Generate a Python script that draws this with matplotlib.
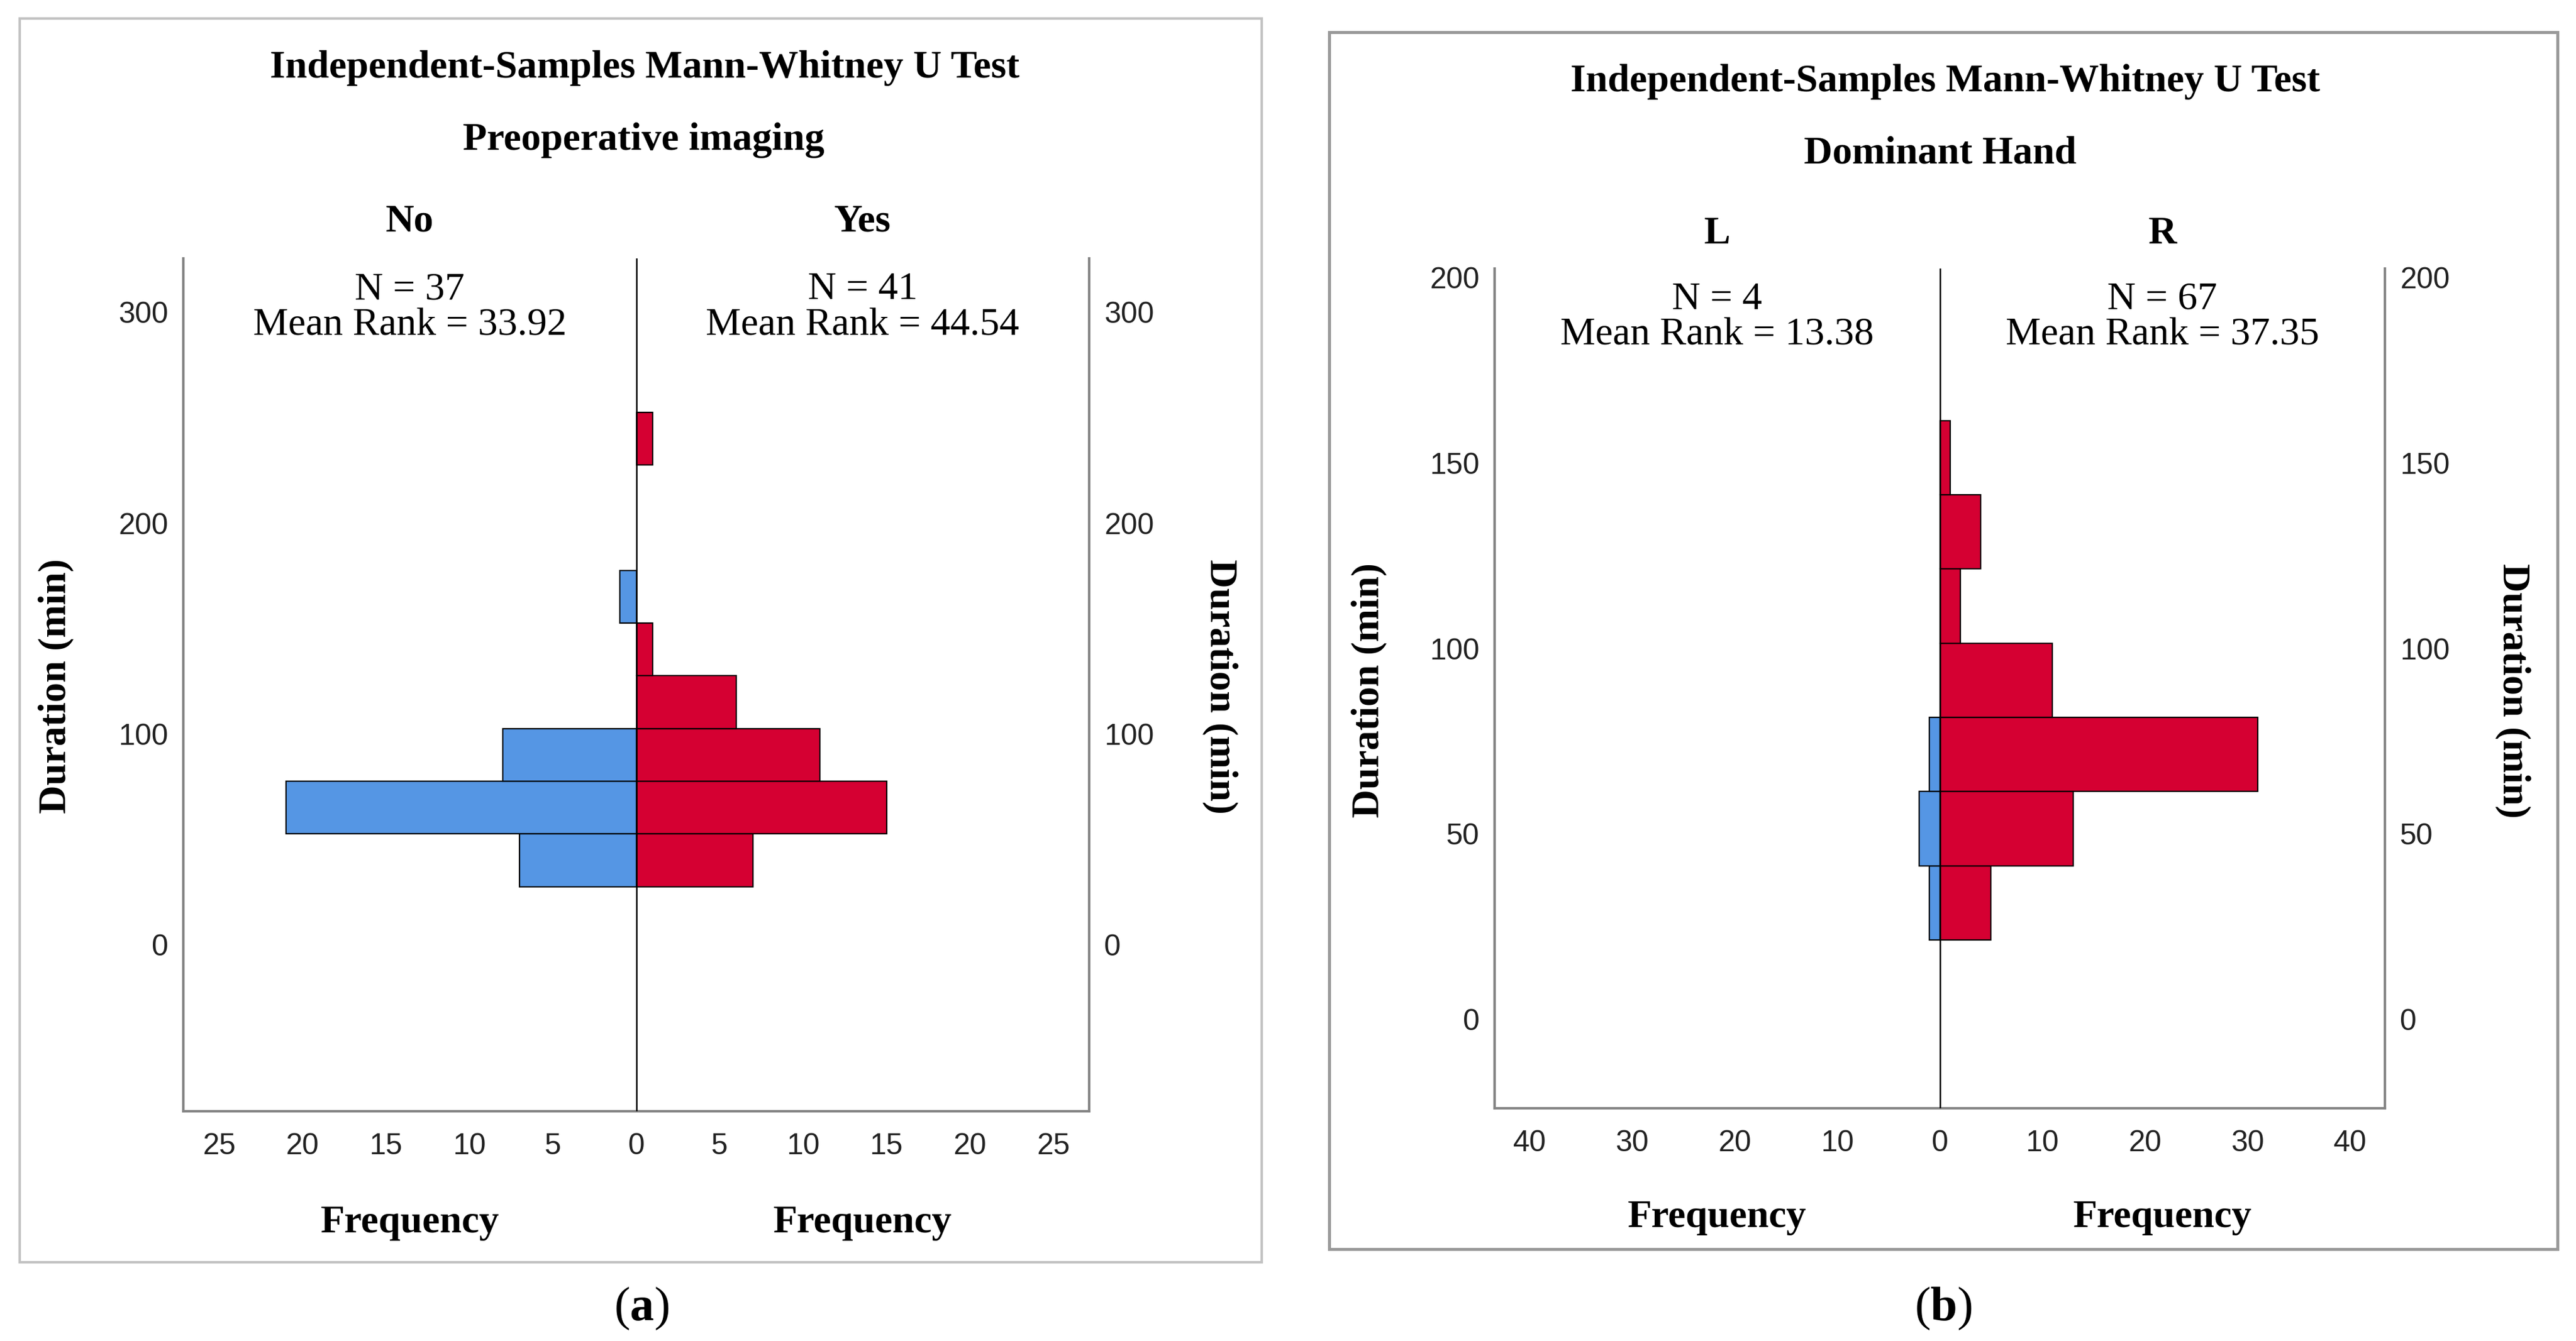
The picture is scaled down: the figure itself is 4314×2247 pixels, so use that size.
import matplotlib
matplotlib.use('Agg')
import matplotlib.pyplot as plt
from matplotlib.patches import Rectangle
from matplotlib.transforms import ScaledTranslation
import numpy as np

W, H = 4314, 2247
DPI = 100

# ---------------- data ----------------
a_title = "Independent-Samples Mann-Whitney U Test"
a_subtitle = "Preoperative imaging"
a_groups = ["No", "Yes"]
a_n = [37, 41]
a_mean_rank = ["33.92", "44.54"]
a_bin_starts = [25, 50, 75, 100, 125, 150, 175, 200, 225]
a_bin_width = 25
a_left_counts = [7, 21, 8, 0, 0, 1, 0, 0, 0]      # No
a_right_counts = [7, 15, 11, 6, 1, 0, 0, 0, 1]    # Yes
a_yticks = [0, 100, 200, 300]
a_xticks = [-25, -20, -15, -10, -5, 0, 5, 10, 15, 20, 25]

b_title = "Independent-Samples Mann-Whitney U Test"
b_subtitle = "Dominant Hand"
b_groups = ["L", "R"]
b_n = [4, 67]
b_mean_rank = ["13.38", "37.35"]
b_bin_starts = [20, 40, 60, 80, 100, 120, 140]
b_bin_width = 20
b_left_counts = [1, 2, 1, 0, 0, 0, 0]             # L
b_right_counts = [5, 13, 31, 11, 2, 4, 1]         # R
b_yticks = [0, 50, 100, 150, 200]
b_xticks = [-40, -30, -20, -10, 0, 10, 20, 30, 40]

BLUE = "#5596E4"
RED = "#D50032"
SERIF = "Liberation Serif"
SANS = "Liberation Sans"

plt.rcParams['mathtext.fontset'] = 'custom'
plt.rcParams['mathtext.rm'] = SERIF
plt.rcParams['mathtext.bf'] = SERIF + ':bold'

fig = plt.figure(figsize=(W / DPI, H / DPI), dpi=DPI)
fig.patch.set_facecolor('white')


def fx(x):
    return x / W


def fy(y):
    return 1 - y / H


def ftext(x, y, s, **kw):
    fig.text(fx(x), fy(y), s, **kw)


TS = 47.5   # serif text size
TK = 36     # tick label size


def panel(box, axbox, xlim, ylim, starts, width, lc, rc, yticks, xticks,
          title, subtitle, groups, ns, ranks, tpos, caption, cap_x):
    # outer frame
    bx0, by0, bx1, by1, bcol, blw = box
    fig.patches.append(Rectangle((fx(bx0), fy(by1)), fx(bx1) - fx(bx0), fy(by0) - fy(by1),
                                 transform=fig.transFigure, fill=False,
                                 edgecolor=bcol, linewidth=blw))
    x0, x1, y0, y1 = axbox
    ax = fig.add_axes([fx(x0), fy(y1), fx(x1) - fx(x0), fy(y0) - fy(y1)])
    ax.set_xlim(-xlim, xlim)
    ax.set_ylim(*ylim)
    centers = np.array(starts) + width / 2.0
    lc = np.array(lc)
    rc = np.array(rc)
    ml = lc > 0
    mr = rc > 0
    ax.barh(centers[ml], -lc[ml], height=width, left=0, color=BLUE,
            edgecolor='black', linewidth=1.6, zorder=3)
    ax.barh(centers[mr], rc[mr], height=width, left=0, color=RED,
            edgecolor='black', linewidth=1.6, zorder=3)
    ax.axvline(0, color='black', linewidth=1.8, zorder=4)
    for s in ['left', 'right', 'bottom']:
        ax.spines[s].set_color('#858585')
        ax.spines[s].set_linewidth(3.0)
    ax.spines['top'].set_visible(False)
    ax.set_yticks(yticks)
    ax.set_yticklabels([str(v) for v in yticks])
    ax.set_xticks(xticks)
    ax.set_xticklabels([str(abs(v)) for v in xticks])
    ax.tick_params(axis='y', length=0, pad=18, labelsize=TK, labelcolor='#222222',
                   labelleft=True, labelright=True)
    ax.tick_params(axis='x', length=0, pad=26, labelsize=TK, labelcolor='#222222')
    off = ScaledTranslation(0, -9 / DPI, fig.dpi_scale_trans)
    for t in ax.yaxis.get_major_ticks():
        for lab in (t.label1, t.label2):
            lab.set_fontfamily(SANS)
            lab.set_transform(lab.get_transform() + off)
    for t in ax.xaxis.get_major_ticks():
        t.label1.set_fontfamily(SANS)
    ax.patch.set_alpha(0)

    tcx, t1y, t2y, gy, n1y, n2y, fqy, ylx_l, ylx_r, yly = tpos
    hl = (x0 + (x0 + x1) / 2) / 2
    hr = ((x0 + x1) / 2 + x1) / 2
    ftext(tcx[0], t1y, title, ha='center', va='baseline', fontsize=TS,
          fontweight='bold', family=SERIF)
    ftext(tcx[1], t2y, subtitle, ha='center', va='baseline', fontsize=TS,
          fontweight='bold', family=SERIF)
    for hx, g, n, r in zip([hl, hr], groups, ns, ranks):
        ftext(hx, gy, g, ha='center', va='baseline', fontsize=TS,
              fontweight='bold', family=SERIF)
        ftext(hx, n1y, "N = %d" % n, ha='center', va='baseline', fontsize=TS,
              family=SERIF)
        ftext(hx, n2y, "Mean Rank = %s" % r, ha='center', va='baseline',
              fontsize=TS, family=SERIF)
        ftext(hx, fqy, "Frequency", ha='center', va='baseline', fontsize=TS,
              fontweight='bold', family=SERIF)
    ftext(ylx_l, yly, "Duration (min)", ha='center', va='center', rotation=90,
          fontsize=TS, fontweight='bold', family=SERIF)
    ftext(ylx_r, yly, "Duration (min)", ha='center', va='center', rotation=-90,
          fontsize=TS, fontweight='bold', family=SERIF)
    ftext(cap_x, 2212, caption, ha='center', va='baseline', fontsize=58,
          family=SERIF)
    return ax


panel(box=(33, 31, 2113, 2115, '#c2c2c2', 3.0),
      axbox=(307, 1824, 433, 1862), xlim=27.15, ylim=(-81.5, 323),
      starts=a_bin_starts, width=a_bin_width, lc=a_left_counts, rc=a_right_counts,
      yticks=a_yticks, xticks=a_xticks, title=a_title, subtitle=a_subtitle,
      groups=a_groups, ns=a_n, ranks=a_mean_rank,
      tpos=((1080, 1078), 130, 251, 388, 501, 562, 2065, 94, 2043, 1150),
      caption=r"($\mathbf{a}$)", cap_x=1074)

panel(box=(2226, 54, 4283, 2093, '#999999', 3.6),
      axbox=(2503, 3994, 450, 1857), xlim=43.4, ylim=(-25.4, 201),
      starts=b_bin_starts, width=b_bin_width, lc=b_left_counts, rc=b_right_counts,
      yticks=b_yticks, xticks=b_xticks, title=b_title, subtitle=b_subtitle,
      groups=b_groups, ns=b_n, ranks=b_mean_rank,
      tpos=((3258, 3249), 153, 273, 408, 518, 578, 2056, 2293, 4208, 1157),
      caption=r"($\mathbf{b}$)", cap_x=3254)

fig.savefig("out.png", dpi=DPI, facecolor='white')
